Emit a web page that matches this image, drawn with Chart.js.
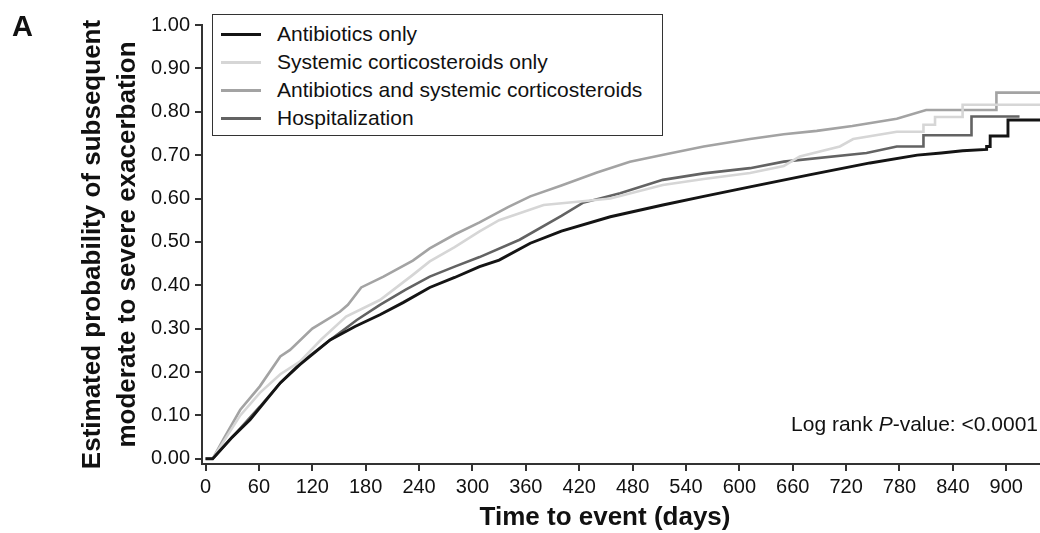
<!DOCTYPE html>
<html>
<head>
<meta charset="utf-8">
<script src="https://cdn.jsdelivr.net/npm/chart.js@4"></script>
<style>
  body { margin: 0; background: #fff; font-family: "Liberation Sans", Arial, sans-serif; }
  #wrap { position: relative; width: 1040px; height: 533px; }
  #chart { position: absolute; left: 0; top: 0; }
  .overlay { position: absolute; color: #111; white-space: nowrap; }
  #panel { left: 12px; top: 10px; font-size: 29px; font-weight: bold; }
  #xtitle { left: 0; width: 1210px; text-align: center; top: 501px; font-size: 26px; font-weight: bold; }
  #note { right: 2px; top: 412px; font-size: 21px; }
  #legend { left: 212px; top: 14px; width: 449px; height: 120px; border: 1.5px solid #333; background: #fff; }
  .row { position: absolute; left: 0; height: 28px; font-size: 21px; line-height: 28px; }
  .row span.swatch { position: absolute; left: 8px; top: 13px; width: 40px; height: 3px; }
  .row span.label { position: absolute; left: 64px; top: 0; }
</style>
</head>
<body>
<div id="wrap">
  <canvas id="chart" width="1040" height="533"></canvas>
  <div class="overlay" id="panel">A</div>
  <div class="overlay" id="xtitle">Time to event (days)</div>
  <div class="overlay" id="note">Log rank <i>P</i>-value: &lt;0.0001</div>
  <div class="overlay" id="legend"></div>
</div>
<script>
// series labels and colours
var seriesNames = ['Antibiotics only', 'Systemic corticosteroids only', 'Antibiotics and systemic corticosteroids', 'Hospitalization'];
var seriesColors = ['#141414', '#d6d6d6', '#a3a3a3', '#636363'];
var seriesWidths = [2.9, 2.6, 2.6, 2.6];

// antibiotics only
var daysAbx = [0, 8, 30, 50, 84, 106, 140, 168, 196, 222, 252, 280, 308, 330, 365, 400, 455, 514, 560, 612, 680, 747, 800, 827, 851, 878, 878, 882, 882, 902, 902, 938];
var probAbx = [0, 0, 0.05, 0.09, 0.175, 0.217, 0.274, 0.305, 0.332, 0.36, 0.395, 0.418, 0.443, 0.458, 0.497, 0.525, 0.558, 0.585, 0.605, 0.627, 0.655, 0.682, 0.70, 0.705, 0.71, 0.713, 0.72, 0.72, 0.744, 0.744, 0.781, 0.781];

// systemic corticosteroids only
var daysSys = [0, 8, 39, 61, 84, 106, 130, 158, 196, 233, 252, 280, 308, 330, 380, 421, 455, 514, 560, 612, 650, 668, 713, 728, 777, 807, 807, 820, 820, 851, 851, 938];
var probSys = [0, 0, 0.1, 0.152, 0.195, 0.224, 0.275, 0.328, 0.366, 0.424, 0.455, 0.488, 0.524, 0.55, 0.585, 0.593, 0.60, 0.631, 0.645, 0.659, 0.675, 0.697, 0.72, 0.737, 0.754, 0.754, 0.77, 0.77, 0.788, 0.788, 0.816, 0.816];

// antibiotics and systemic corticosteroids
var daysBoth = [0, 8, 20, 39, 61, 84, 95, 120, 151, 160, 175, 200, 233, 252, 280, 308, 340, 365, 400, 440, 477, 520, 560, 612, 650, 687, 727, 777, 810, 889, 889, 938];
var probBoth = [0, 0, 0.045, 0.113, 0.167, 0.236, 0.251, 0.30, 0.339, 0.355, 0.395, 0.42, 0.457, 0.485, 0.517, 0.545, 0.58, 0.605, 0.63, 0.66, 0.685, 0.703, 0.72, 0.737, 0.748, 0.756, 0.767, 0.784, 0.804, 0.804, 0.844, 0.844];

// hospitalization
var daysHosp = [0, 8, 39, 61, 84, 106, 140, 170, 196, 225, 252, 280, 308, 353, 400, 424, 466, 514, 560, 612, 650, 743, 777, 807, 807, 861, 861, 915];
var probHosp = [0, 0, 0.07, 0.12, 0.175, 0.22, 0.274, 0.32, 0.355, 0.39, 0.42, 0.443, 0.465, 0.505, 0.56, 0.59, 0.612, 0.643, 0.658, 0.67, 0.685, 0.705, 0.72, 0.72, 0.746, 0.746, 0.789, 0.789];

// axis ticks
var xTicks = [0, 60, 120, 180, 240, 300, 360, 420, 480, 540, 600, 660, 720, 780, 840, 900];
var yTicks = [0, 0.1, 0.2, 0.3, 0.4, 0.5, 0.6, 0.7, 0.8, 0.9, 1.0];

function toPoints(days, probs) {
    return days.map(function (d, i) { return { x: d, y: probs[i] }; });
}

var allSeries = [
    toPoints(daysAbx, probAbx),
    toPoints(daysSys, probSys),
    toPoints(daysBoth, probBoth),
    toPoints(daysHosp, probHosp)
];

// legend box
var legend = document.getElementById('legend');
seriesNames.forEach(function (name, i) {
    var row = document.createElement('div');
    row.className = 'row';
    row.style.top = (5 + i * 28) + 'px';
    row.style.width = '440px';
    row.innerHTML = '<span class="swatch" style="background:' + seriesColors[i] + '"></span><span class="label">' + name + '</span>';
    legend.appendChild(row);
});

var axisColor = '#333';
var tickFont = { family: '"Liberation Sans", Arial, sans-serif', size: 20 };

var ctx = document.getElementById('chart').getContext('2d');
var chart = new Chart(ctx, {
    type: 'line',
    data: {
        datasets: allSeries.map(function (pts, i) {
            return {
                label: seriesNames[i],
                data: pts,
                borderColor: seriesColors[i],
                backgroundColor: seriesColors[i],
                borderWidth: seriesWidths[i],
                pointRadius: 0,
                tension: 0,
                fill: false
            };
        })
    },
    options: {
        responsive: false,
        animation: false,
        devicePixelRatio: 1,
        layout: { padding: { top: 25, right: 0, left: 0, bottom: 0 } },
        plugins: {
            legend: { display: false },
            tooltip: { enabled: false }
        },
        scales: {
            x: {
                type: 'linear',
                min: -4,
                max: 938,
                afterBuildTicks: function (scale) {
                    scale.ticks = xTicks.map(function (v) { return { value: v }; });
                },
                afterFit: function (scale) { scale.height = 69; },
                grid: { drawOnChartArea: false, drawTicks: true, tickLength: 7, color: axisColor, lineWidth: 2 },
                border: { display: true, color: axisColor, width: 2 },
                ticks: { color: '#111', font: tickFont, padding: 4, maxRotation: 0, autoSkip: false }
            },
            y: {
                type: 'linear',
                min: -0.012,
                max: 1.0,
                afterBuildTicks: function (scale) {
                    scale.ticks = yTicks.map(function (v) { return { value: v }; });
                },
                afterFit: function (scale) { scale.width = 202; },
                grid: { drawOnChartArea: false, drawTicks: true, tickLength: 7, color: axisColor, lineWidth: 2 },
                border: { display: true, color: axisColor, width: 2 },
                ticks: {
                    color: '#111',
                    font: tickFont,
                    padding: 5,
                    autoSkip: false,
                    callback: function (v) { return Number(v).toFixed(2); }
                },
                title: {
                    display: true,
                    text: ['Estimated probability of subsequent', 'moderate to severe exacerbation'],
                    color: '#111',
                    font: { family: '"Liberation Sans", Arial, sans-serif', size: 26, weight: 'bold', lineHeight: 1.35 },
                    padding: { top: 75, bottom: 0 }
                }
            }
        }
    }
});
</script>
</body>
</html>
